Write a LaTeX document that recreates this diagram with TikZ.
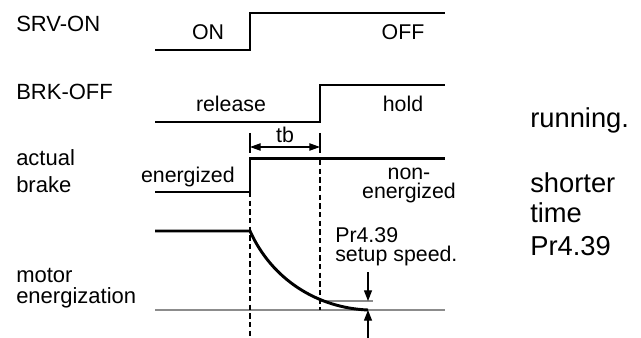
\documentclass[tikz,border=0pt]{standalone}
\usepackage{fontspec}
\setmainfont{Liberation Sans}
\usetikzlibrary{arrows.meta}
\begin{document}
\begin{tikzpicture}[x=0.75pt,y=-0.75pt,
  wave/.style={line width=2.2pt, line join=miter},
  guide/.style={line width=0.9pt, dash pattern=on 4pt off 2.5pt},
  tick/.style={line width=0.9pt},
  grayline/.style={line width=1.1pt, draw=black!45},
  lbl/.style={inner sep=0pt, font=\fontsize{16.5}{18}\selectfont},
  inlbl/.style={inner sep=0pt, font=\fontsize{16}{14.25}\selectfont},
  side/.style={inner sep=0pt, font=\fontsize{20.5}{24}\selectfont, anchor=base west},
  tipd/.style={-{Triangle[length=8pt,width=6pt]}},
  dimarrow/.style={line width=0.9pt,{Triangle[length=8pt,width=5.5pt]}-{Triangle[length=8pt,width=5.5pt]}}
]
\useasboundingbox (0,0) rectangle (641,338);

% left labels
\node[lbl,anchor=base west] (srv) at (16,32) {SRV-ON};
\node[lbl,anchor=base west] (brk) at (16,100) {BRK-OFF};
\node[lbl,anchor=base west] (act1) at (16,166) {actual};
\node[lbl,anchor=base west] (act2) at (16,193) {brake};
\node[lbl,anchor=base west] (mot1) at (16,282) {motor};
\node[lbl,anchor=base west] (mot2) at (16,303) {energization};

% inner labels
\node[inlbl,anchor=base] (on) at (208,40) {ON};
\node[inlbl,anchor=base] (off) at (403,40) {OFF};
\node[inlbl,anchor=base] (rel) at (231,112) {release};
\node[inlbl,anchor=base] (hold) at (403,112) {hold};
\node[inlbl,anchor=base] (tb) at (285,143) {tb};
\node[inlbl,anchor=base east] (ener) at (235,183) {energized};
\node[inlbl,anchor=base,align=center] (non) at (409,199) {non-\\energized};
\node[inlbl,anchor=base west,align=left] (pr) at (335,261) {Pr4.39\\setup speed.};

% right side text
\node[side] (r1) at (530,128) {running.};
\node[side] (r2) at (530,192) {shorter};
\node[side] (r3) at (530,222) {time};
\node[side] (r4) at (530,255) {Pr4.39};

% coordinates
\coordinate (tA) at (250,133);
\coordinate (tB) at (320,133);
\coordinate (tAb) at (250,153);
\coordinate (tBb) at (320,153);
\coordinate (aL) at (250,147);
\coordinate (aR) at (320,147);
\coordinate (dA0) at (250,192);
\coordinate (dA1) at (250,338);
\coordinate (dB0) at (320,160);
\coordinate (dB1) at (320,310);

% gray lines
\draw[grayline] (155,310) -- (445,310);
\draw[grayline] (320,301) -- (373,301);

% waveforms
\draw[wave] (155,50) -- (250,50) -- (250,13) -- (445,13);
\draw[wave] (155,122) -- (320,122) -- (320,85) -- (445,85);
\draw[wave] (155,192) -- (250,192) -- (250,158.5) -- (445,158.5);
\draw[wave] (155,231) -- (250,231) .. controls (272,280) and (318,308) .. (368,310);

% guides
\draw[guide] (dA0) -- (dA1);
\draw[guide] (dB0) -- (dB1);
\draw[tick] (tA) -- (tAb);
\draw[tick] (tB) -- (tBb);
\draw[dimarrow] (aL) -- (aR);

% setup speed arrows
\coordinate (sT0) at (368,272);
\coordinate (sT1) at (368,301);
\coordinate (sB0) at (368,338);
\coordinate (sB1) at (368,310);
\draw[tick,tipd] (sT0) -- (sT1);
\draw[tick,tipd] (sB0) -- (sB1);
\end{tikzpicture}
\end{document}
